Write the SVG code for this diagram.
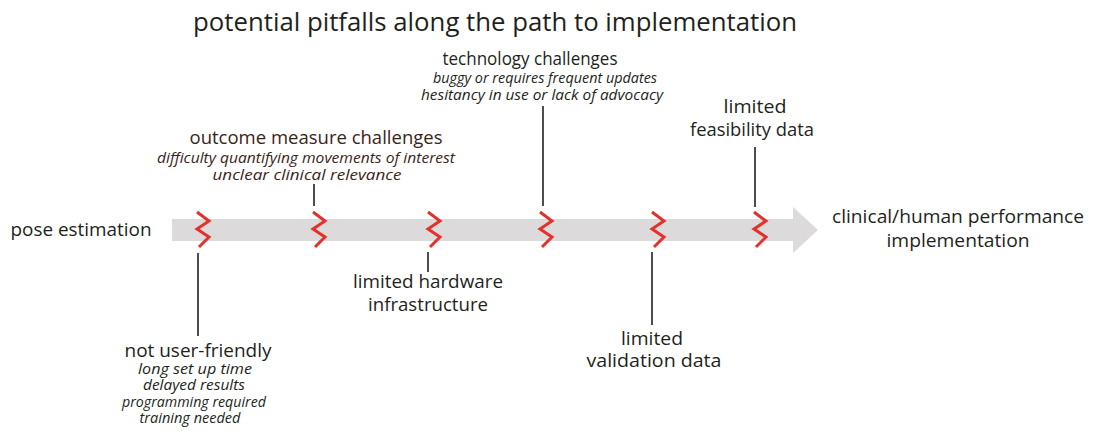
<svg xmlns="http://www.w3.org/2000/svg" width="1096" height="431" viewBox="0 0 1096 431">
  <style>
    text { font-family: "Open Sans", "Noto Sans", "Liberation Sans", sans-serif; fill: #231f20; text-anchor: middle; }
    .title { font-size: 26px; }
    .lbl { font-size: 18.5px; }
    .sub { font-size: 15px; font-style: italic; }
    .brown { fill: #3b2418; }
    .lead { stroke: #231f20; stroke-width: 1.6; fill: none; }
    .zig { stroke: #e2322b; stroke-width: 3; fill: none; stroke-linejoin: miter; stroke-linecap: butt; }
  </style>
  <defs>
    <path id="zz" d="M1,212 L13,221 L1,229 L13,237 L3,247"/>
  </defs>
  <rect width="1096" height="431" fill="#ffffff"/>

  <text class="title" x="495" y="31" textLength="604" lengthAdjust="spacingAndGlyphs">potential pitfalls along the path to implementation</text>

  <!-- main path arrow -->
  <g id="path-arrow">
    <rect x="172" y="219" width="621" height="22" fill="#dcdada"/>
    <polygon points="793,207 818,230 793,253" fill="#dcdada"/>
  </g>

  <!-- leader lines from pitfalls to labels -->
  <g id="connectors">
    <line class="lead" x1="198" y1="253" x2="198" y2="336"/>
    <line class="lead" x1="314" y1="184" x2="314" y2="206"/>
    <line class="lead" x1="428" y1="252" x2="428" y2="272"/>
    <line class="lead" x1="543" y1="106" x2="543" y2="206"/>
    <line class="lead" x1="652" y1="252" x2="652" y2="325"/>
    <line class="lead" x1="755" y1="147" x2="755" y2="207"/>
  </g>

  <!-- pitfall break marks -->
  <g id="breaks">
    <use href="#zz" class="zig" transform="translate(196,0)"/>
    <use href="#zz" class="zig" transform="translate(312,0)"/>
    <use href="#zz" class="zig" transform="translate(427,0)"/>
    <use href="#zz" class="zig" transform="translate(539,0)"/>
    <use href="#zz" class="zig" transform="translate(651,0)"/>
    <use href="#zz" class="zig" transform="translate(753,0)"/>
  </g>

  <g id="start">
    <text class="lbl" x="81" y="236" textLength="141" lengthAdjust="spacingAndGlyphs">pose estimation</text>
  </g>

  <g id="end">
    <text class="lbl" x="958" y="223" textLength="252" lengthAdjust="spacingAndGlyphs">clinical/human performance</text>
    <text class="lbl" x="958" y="247" textLength="143" lengthAdjust="spacingAndGlyphs">implementation</text>
  </g>

  <g id="not-user-friendly">
    <text class="lbl" x="198" y="357" textLength="147" lengthAdjust="spacingAndGlyphs">not user-friendly</text>
    <text class="sub" x="195" y="374" textLength="114" lengthAdjust="spacingAndGlyphs">long set up time</text>
    <text class="sub" x="194" y="390" textLength="102" lengthAdjust="spacingAndGlyphs">delayed results</text>
    <text class="sub" x="194" y="407" textLength="144" lengthAdjust="spacingAndGlyphs">programming required</text>
    <text class="sub" x="190" y="423" textLength="101" lengthAdjust="spacingAndGlyphs">training needed</text>
  </g>

  <g id="outcome-measure">
    <text class="lbl brown" x="316" y="144" textLength="253" lengthAdjust="spacingAndGlyphs">outcome measure challenges</text>
    <text class="sub brown" x="306" y="163" textLength="298" lengthAdjust="spacingAndGlyphs">difficulty quantifying movements of interest</text>
    <text class="sub brown" x="307" y="180" textLength="189" lengthAdjust="spacingAndGlyphs">unclear clinical relevance</text>
  </g>

  <g id="hardware">
    <text class="lbl" x="428" y="288" textLength="150" lengthAdjust="spacingAndGlyphs">limited hardware</text>
    <text class="lbl" x="428" y="311" textLength="120" lengthAdjust="spacingAndGlyphs">infrastructure</text>
  </g>

  <g id="technology">
    <text class="lbl" x="530" y="65" textLength="175" lengthAdjust="spacingAndGlyphs">technology challenges</text>
    <text class="sub" x="545" y="83" textLength="224" lengthAdjust="spacingAndGlyphs">buggy or requires frequent updates</text>
    <text class="sub" x="542" y="100" textLength="242" lengthAdjust="spacingAndGlyphs">hesitancy in use or lack of advocacy</text>
  </g>

  <g id="validation">
    <text class="lbl" x="652" y="345" textLength="62" lengthAdjust="spacingAndGlyphs">limited</text>
    <text class="lbl" x="654" y="367" textLength="135" lengthAdjust="spacingAndGlyphs">validation data</text>
  </g>

  <g id="feasibility">
    <text class="lbl" x="755" y="113" textLength="63" lengthAdjust="spacingAndGlyphs">limited</text>
    <text class="lbl" x="752" y="136" textLength="124" lengthAdjust="spacingAndGlyphs">feasibility data</text>
  </g>
</svg>
